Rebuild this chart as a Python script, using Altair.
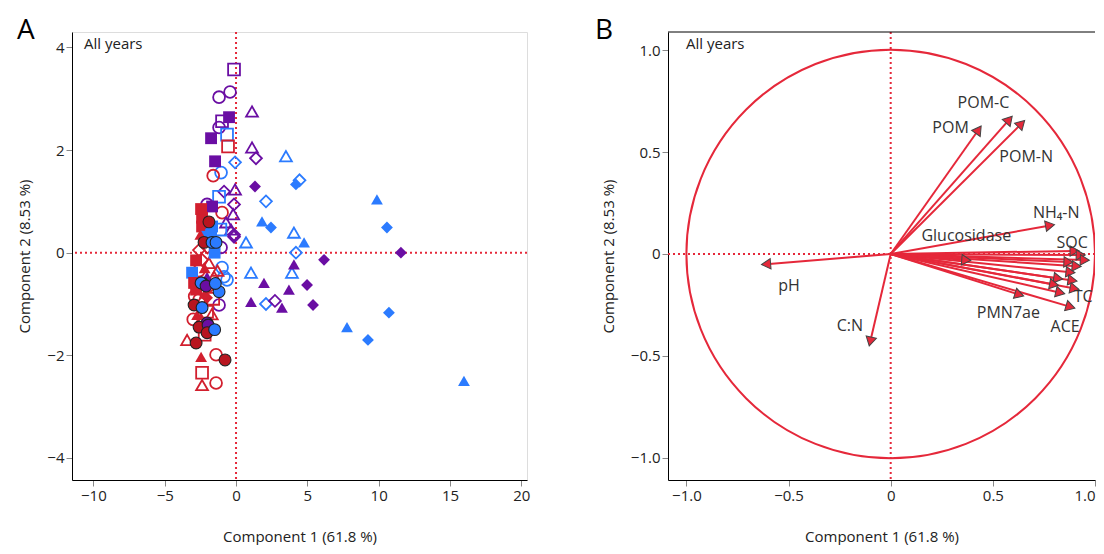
import altair as alt
import pandas as pd

FONT = "Open Sans"

# ---------------- Panel A: scores ----------------
score_x = [-0.14, -1.19, -0.42, -0.49, -0.98, -1.19, -0.63, -1.75, -0.56, -1.47,
           -1.05, -1.60, -0.07, 1.12, 1.12, 1.40, 3.50, 4.20, 4.45, 1.33,
           2.10, -0.84, -0.07, -1.19, -0.14, -2.03, -0.98, 1.82, 2.45, -0.20,
           -0.35, -0.14, 0.70, 4.06, 4.77, 4.20, 6.17, 11.56, 10.58, 9.88,
           4.06, 1.05, 3.92, 1.96, 4.98, 3.71, 1.05, 2.10, 2.73, 3.22,
           5.40, 10.72, 7.78, 9.25, 15.98,
           -1.68, -0.70, -2.38, -2.38, -2.45, -2.10, -1.75, -1.68, -1.10, -0.14,
           -2.24, -1.68, -1.05, -2.60, -2.38, -1.50, -0.98, -0.84, -0.63, -3.08,
           -2.94, -2.80, -2.38, -2.45, -1.19, -2.03, -1.54, -2.03, -2.59, -2.94,
           -2.38, -1.19, -2.03, -2.73, -2.45, -2.03, -2.59, -1.96, -3.43, -2.80,
           -2.03, -2.45, -1.40, -0.77, -2.38, -2.38, -1.40,
           -2.80, -2.20, -1.90, -2.60, -1.80, -2.20, -1.60, -2.90, -2.00, -1.30,
           -2.50, -1.90, -1.40, -2.70, -1.70, -2.20, -3.00, -1.50, -2.10, -1.45]
score_y = [3.57, 3.03, 3.13, 2.64, 2.56, 2.44, 2.30, 2.23, 2.07, 1.78,
           1.56, 1.50, 1.76, 2.75, 2.05, 1.84, 1.88, 1.33, 1.41, 1.29,
           1.00, 1.19, 1.23, 1.09, 0.94, 0.94, 0.78, 0.61, 0.49, 0.75,
           0.45, 0.31, 0.20, 0.39, 0.20, 0.00, -0.14, 0.00, 0.49, 1.04,
           -0.23, -0.39, -0.39, -0.59, -0.63, -0.72, -0.96, -1.00, -0.94, -1.07,
           -1.02, -1.17, -1.45, -1.70, -2.50,
           0.90, 0.59, 0.68, 0.51, 0.85, 0.31, 0.35, 0.51, 0.45, 0.35,
           0.20, 0.20, 0.10, 0.05, -0.14, 0.00, -0.29, -0.47, -0.53, -0.39,
           -0.59, -0.72, -0.59, -0.59, -0.76, -0.47, -0.47, -0.88, -0.92, -1.02,
           -1.07, -1.02, -1.15, -1.21, -1.30, -1.37, -1.45, -1.41, -1.70, -1.76,
           -1.56, -2.03, -1.99, -2.09, -2.34, -2.58, -2.54,
           -0.15, -0.30, -0.20, -0.35, -0.65, -0.80, -0.90, -0.85, 0.10, -0.35,
           0.35, 0.60, 0.20, -1.00, -1.20, -1.60, -1.30, -1.50, -0.65, -0.60]
score_group = ["P", "P", "P", "P", "P", "P", "B", "P", "R", "P",
               "B", "R", "B", "P", "P", "P", "B", "B", "B", "P",
               "B", "P", "P", "B", "P", "P", "R", "B", "B", "P",
               "P", "P", "B", "B", "B", "B", "P", "P", "B", "B",
               "P", "B", "B", "P", "P", "P", "P", "B", "P", "P",
               "P", "B", "B", "B", "B",
               "P", "P", "R", "R", "R", "B", "B", "B", "B", "P",
               "D", "B", "P", "R", "R", "B", "B", "B", "B", "B",
               "R", "R", "D", "B", "B", "P", "R", "R", "R", "D",
               "B", "P", "R", "R", "R", "P", "D", "P", "R", "D",
               "D", "R", "R", "D", "R", "R", "R",
               "R", "R", "R", "R", "R", "R", "R", "R", "R", "R",
               "R", "D", "B", "R", "R", "R", "R", "B", "P", "B"]
score_shape = ["s", "c", "c", "s", "s", "c", "s", "s", "s", "s",
               "c", "c", "d", "t", "t", "d", "t", "d", "d", "d",
               "d", "d", "t", "s", "d", "c", "c", "t", "d", "t",
               "t", "d", "t", "t", "t", "d", "d", "d", "d", "t",
               "t", "t", "t", "t", "d", "t", "t", "d", "d", "t",
               "d", "d", "t", "d", "t",
               "s", "t", "s", "s", "s", "s", "s", "s", "s", "d",
               "c", "c", "c", "d", "d", "s", "c", "c", "c", "s",
               "s", "s", "c", "c", "c", "t", "t", "d", "c", "c",
               "c", "c", "s", "t", "t", "c", "c", "c", "t", "c",
               "c", "t", "c", "c", "s", "t", "c",
               "s", "t", "t", "c", "d", "t", "s", "c", "d", "t",
               "t", "c", "c", "t", "t", "s", "c", "c", "c", "c"]
score_filled = [0, 0, 0, 1, 0, 0, 0, 1, 0, 1,
                0, 0, 0, 0, 0, 0, 0, 1, 0, 1,
                0, 0, 0, 0, 0, 0, 0, 1, 1, 0,
                0, 0, 0, 0, 1, 0, 1, 1, 1, 1,
                1, 0, 0, 1, 1, 1, 1, 0, 0, 1,
                1, 1, 1, 1, 1,
                1, 0, 1, 1, 1, 1, 1, 1, 0, 0,
                1, 1, 0, 0, 0, 1, 0, 0, 0, 1,
                1, 1, 1, 1, 1, 1, 0, 1, 0, 1,
                1, 0, 0, 1, 0, 1, 1, 1, 0, 1,
                1, 1, 0, 1, 0, 0, 0,
                1, 1, 0, 0, 0, 1, 0, 0, 0, 0,
                1, 1, 1, 1, 0, 0, 0, 1, 1, 1]

# ---------------- Panel B: loadings ----------------
load_x = [0.43, 0.58, 0.64, 0.78, 0.37, 0.90, 0.93, 0.95, 0.87, 0.91,
          0.88, 0.82, 0.89, 0.80, 0.90, 0.83, 0.88, 0.63, -0.61, -0.10]
load_y = [0.61, 0.66, 0.64, 0.14, -0.03, 0.015, -0.005, -0.03, -0.04, -0.06,
          -0.09, -0.12, -0.13, -0.15, -0.17, -0.19, -0.26, -0.20, -0.05, -0.43]
var_names = ["POM", "POM-C", "POM-N", "NH\u2084-N", "Glucosidase", "SOC", "TC", "PMN7ae", "ACE", "pH", "C:N"]
var_label_x = [0.293, 0.454, 0.663, 0.810, 0.37, 0.888, 0.896, 0.576, 0.854, -0.498, -0.20]
var_label_y = [0.618, 0.74, 0.475, 0.20, 0.09, 0.054, -0.212, -0.29, -0.358, -0.157, -0.353]

years_label = ["All years"]
x_title = "Component 1  (61.8 %)"
y_title = "Component 2  (8.53 %)"

RED = "#e5283a"
COLORS = {"R": "#d21f2e", "D": "#b8151f", "P": "#6a0ea3", "B": "#2b7bff"}
SHAPES = {"s": "square", "c": "circle", "t": "triangle-up", "d": "diamond"}

df = pd.DataFrame({"x": score_x, "y": score_y, "g": score_group,
                   "sh": score_shape, "f": score_filled})
df["shape"] = df["sh"].map(SHAPES)
df["kind"] = "open"
df.loc[(df["f"] == 1) & (df["sh"] != "c"), "kind"] = "filled"
df.loc[(df["f"] == 1) & (df["sh"] == "c"), "kind"] = "fcircle"

WA, HA = 455, 448
xa = alt.Scale(domain=[-11.5, 20.4], nice=False, zero=False)
ya = alt.Scale(domain=[-4.43, 4.3], nice=False, zero=False)
cscale = alt.Scale(domain=list(COLORS.keys()), range=list(COLORS.values()))
sscale = alt.Scale(domain=list(SHAPES.values()), range=list(SHAPES.values()))

axis_common = dict(grid=False, tickColor="#888", tickSize=6, labelFontSize=15,
                   titleFontSize=15, labelColor="#222", titleColor="#222",
                   titleFontWeight="normal", domainColor="black", labelFont=FONT, titleFont=FONT)

xA = alt.X("x:Q", scale=xa, axis=alt.Axis(values=[-10, -5, 0, 5, 10, 15, 20], title=x_title,
                                           titlePadding=26, **axis_common))
yA = alt.Y("y:Q", scale=ya, axis=alt.Axis(values=[-4, -2, 0, 2, 4], title=y_title,
                                           titlePadding=14, **axis_common))

zero = pd.DataFrame({"z": [0]})
zx_A = alt.Chart(zero).mark_rule(color=RED, strokeDash=[2, 3], strokeWidth=2).encode(x=alt.X("z:Q", scale=xa))
zy_A = alt.Chart(zero).mark_rule(color=RED, strokeDash=[2, 3], strokeWidth=2).encode(y=alt.Y("z:Q", scale=ya))

shape_enc = alt.Shape("shape:N", scale=sscale, legend=None)
pts_open = alt.Chart(df[df["kind"] == "open"]).mark_point(filled=False, size=140, strokeWidth=1.8, opacity=1).encode(
    x=xA, y=yA, stroke=alt.Stroke("g:N", scale=cscale, legend=None), shape=shape_enc)
pts_fill = alt.Chart(df[df["kind"] == "filled"]).mark_point(filled=True, size=140, opacity=1).encode(
    x=xA, y=yA, fill=alt.Fill("g:N", scale=cscale, legend=None), shape=shape_enc)
pts_fc = alt.Chart(df[df["kind"] == "fcircle"]).mark_point(filled=True, size=140, opacity=1,
                                                            stroke="#222", strokeWidth=1.1).encode(
    x=xA, y=yA, fill=alt.Fill("g:N", scale=cscale, legend=None), shape=shape_enc)

lab_df = pd.DataFrame({"t": years_label})
yrs_A = alt.Chart(lab_df).mark_text(align="left", baseline="top", fontSize=15, font=FONT, color="#222").encode(
    x=alt.value(12), y=alt.value(5), text="t:N")
letA = alt.Chart(pd.DataFrame({"t": ["A"]})).mark_text(align="left", baseline="alphabetic", fontSize=28,
                                                         font=FONT, color="black").encode(
    x=alt.value(-55), y=alt.value(7), text="t:N")

panelA = alt.layer(zx_A, zy_A, pts_open, pts_fill, pts_fc, yrs_A, letA).properties(width=WA, height=HA)

# ---------- panel B ----------
WB, HB = 427, 448
xb_dom = [-1.09, 1.0]
yb_dom = [-1.11, 1.09]
xb = alt.Scale(domain=xb_dom, nice=False, zero=False)
yb = alt.Scale(domain=yb_dom, nice=False, zero=False)
lab_expr = "datum.value == 0 ? '0' : format(datum.value, '.1f')"
axB_x = alt.Axis(values=[-1.0, -0.5, 0, 0.5, 1.0], labelExpr=lab_expr, title=x_title, titlePadding=26,
                 labelFlush=True, **axis_common)
axB_y = alt.Axis(values=[-1.0, -0.5, 0, 0.5, 1.0], labelExpr=lab_expr, title=y_title, titlePadding=14,
                 **axis_common)

ld = pd.DataFrame({"lx": load_x, "ly": load_y})
ld["ox"] = 0.0
ld["oy"] = 0.0
vl = pd.DataFrame({"name": var_names, "tx": var_label_x, "ty": var_label_y})

r_px = WB / (xb_dom[1] - xb_dom[0])
circle = alt.Chart(zero).mark_point(shape="circle", filled=False, size=(2 * r_px) ** 2, stroke=RED,
                                    strokeWidth=2, opacity=1, clip=True).encode(
    x=alt.X("z:Q", scale=xb, axis=axB_x), y=alt.Y("z:Q", scale=yb, axis=axB_y))
zx_B = alt.Chart(zero).mark_rule(color=RED, strokeDash=[2, 3], strokeWidth=2).encode(x=alt.X("z:Q", scale=xb))
zy_B = alt.Chart(zero).mark_rule(color=RED, strokeDash=[2, 3], strokeWidth=2).encode(y=alt.Y("z:Q", scale=yb))
arrows = alt.Chart(ld).mark_rule(color=RED, strokeWidth=2, clip=True).encode(
    x=alt.X("ox:Q", scale=xb), y=alt.Y("oy:Q", scale=yb), x2="lx:Q", y2="ly:Q")
heads = alt.Chart(ld).transform_calculate(
    ang="(360 - atan2(datum.ly, datum.lx) * 180 / PI) % 360"
).mark_point(shape="triangle-right", filled=True, size=110, fill=RED, stroke="#444",
             strokeWidth=1, opacity=1, clip=True).encode(
    x=alt.X("lx:Q", scale=xb), y=alt.Y("ly:Q", scale=yb), angle=alt.Angle("ang:Q", scale=None))
names = alt.Chart(vl[vl["name"] != "TC"]).mark_text(fontSize=16, font=FONT, color="#333", clip=True).encode(
    x=alt.X("tx:Q", scale=xb), y=alt.Y("ty:Q", scale=yb), text="name:N")
names_tc = alt.Chart(vl[vl["name"] == "TC"]).mark_text(fontSize=16, font=FONT, color="#333", clip=True,
                                                       align="left").encode(
    x=alt.X("tx:Q", scale=xb), y=alt.Y("ty:Q", scale=yb), text="name:N")
top_border = alt.Chart(zero).mark_rule(color="black", strokeWidth=1).encode(
    x=alt.value(0), x2=alt.value(WB), y=alt.value(0))
yrs_B = alt.Chart(lab_df).mark_text(align="left", baseline="top", fontSize=15, font=FONT, color="#222").encode(
    x=alt.value(18), y=alt.value(5), text="t:N")
letB = alt.Chart(pd.DataFrame({"t": ["B"]})).mark_text(align="left", baseline="alphabetic", fontSize=28,
                                                         font=FONT, color="black").encode(
    x=alt.value(-73), y=alt.value(7), text="t:N")

panelB = alt.layer(circle, zx_B, zy_B, arrows, heads, names, names_tc, top_border, yrs_B, letB).properties(
    width=WB, height=HB, view=alt.ViewBackground(strokeOpacity=0))

chart = alt.hconcat(panelA, panelB, spacing=141, bounds="flush").properties(
    padding={"left": 8, "top": 8, "right": 0, "bottom": 0}
).configure_view(stroke="black", strokeWidth=1).configure(font=FONT)

chart.save("out.html", embed_options={"renderer": "svg", "actions": False})
